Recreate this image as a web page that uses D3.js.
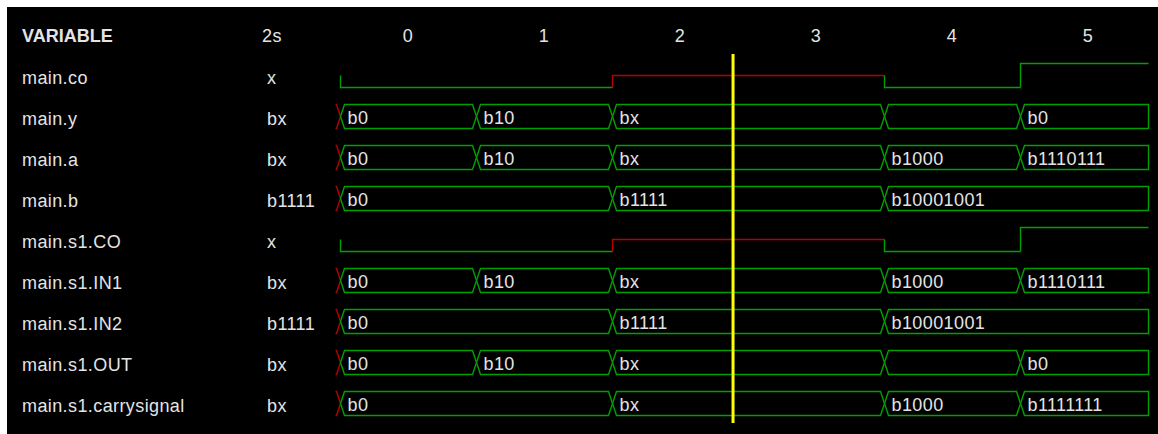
<!DOCTYPE html>
<html>
<head>
<meta charset="utf-8">
<script src="https://cdn.jsdelivr.net/npm/d3@7"></script>
<style>
  html, body { margin: 0; padding: 0; background: #fff; }
  svg { display: block; }
  text { font-family: "Liberation Sans", Arial, sans-serif; font-size: 18px; letter-spacing: 0.4px; fill: #e4e4e4; }
</style>
</head>
<body>
<svg id="root" width="1158" height="434"></svg>
<script>
// Values per time step (0..5)
var timeTicks = [0, 1, 2, 3, 4, 5];
var cursorLabel = '2s';
var cursorTime = 2.89;

var coValues    = ['0', '0', 'x', 'x', '0', '1'];
var yValues     = ['b0', 'b10', 'bx', 'bx', '', 'b0'];
var aValues     = ['b0', 'b10', 'bx', 'bx', 'b1000', 'b1110111'];
var bValues     = ['b0', 'b0', 'b1111', 'b1111', 'b10001001', 'b10001001'];
var carryValues = ['b0', 'b0', 'bx', 'bx', 'b1000', 'b1111111'];

var signalNames  = ['main.co', 'main.y', 'main.a', 'main.b', 'main.s1.CO',
                    'main.s1.IN1', 'main.s1.IN2', 'main.s1.OUT', 'main.s1.carrysignal'];
var cursorValues = ['x', 'bx', 'bx', 'b1111', 'x', 'bx', 'b1111', 'bx', 'bx'];
var signalKinds  = ['bit', 'bus', 'bus', 'bus', 'bit', 'bus', 'bus', 'bus', 'bus'];
var signalData   = [coValues, yValues, aValues, bValues, coValues,
                    aValues, bValues, yValues, carryValues];

var GREEN = '#00a000', RED = '#b80000';
var svg = d3.select('#root');

svg.append('rect').attr('x', 7).attr('y', 7).attr('width', 1151).attr('height', 427)
  .attr('fill', '#000');

var x = d3.scaleLinear().domain([0, 6]).range([340, 1156]);
var xEnd = 1148;
var row = d3.scaleLinear().domain([-1, 0]).range([34, 75]); // header is row -1
var half = 12, slant = 4;

// header
var header = svg.append('g');
header.append('text').attr('x', 22).attr('y', row(-1) + 7.5)
  .style('font-weight', 'bold').style('letter-spacing', '0px').text('VARIABLE');
header.append('text').attr('x', 262).attr('y', row(-1) + 7.5).text(cursorLabel);
header.selectAll('.tick').data(timeTicks).enter().append('text')
  .attr('class', 'tick')
  .attr('x', function(d) { return x(d + 0.5); })
  .attr('y', row(-1) + 7.5)
  .attr('text-anchor', 'middle')
  .text(function(d) { return d; });

// collapse per-step values into runs
function runs(values) {
  var out = [];
  values.forEach(function(v, i) {
    var last = out[out.length - 1];
    if (last && last.v === v) last.t1 = i + 1;
    else out.push({v: v, t0: i, t1: i + 1});
  });
  return out;
}

var rows = svg.selectAll('.signal').data(signalNames).enter().append('g')
  .attr('class', 'signal');

rows.append('text').attr('x', 22).attr('y', function(d, i) { return row(i) + 8.5; })
  .text(function(d) { return d; });
rows.append('text').attr('x', 267).attr('y', function(d, i) { return row(i) + 8.5; })
  .text(function(d, i) { return cursorValues[i]; });

var line = d3.line();

rows.each(function(name, i) {
  var g = d3.select(this);
  var c = Math.round(row(i)) + 0.5;
  var segs = runs(signalData[i]);

  if (signalKinds[i] === 'bit') {
    var level = function(v) { return v === '1' ? c - half : v === '0' ? c + half : c; };
    var prev = level('x');
    segs.forEach(function(s) {
      var x0 = Math.round(x(s.t0)) + 0.5;
      var x1 = Math.min(Math.round(x(s.t1)) + 0.5, xEnd + 0.5);
      var col = s.v === 'x' ? RED : GREEN;
      g.append('path').attr('fill', 'none').attr('stroke', col).attr('stroke-width', 1.4)
        .attr('d', line([[x0, prev], [x0, level(s.v)], [x1, level(s.v)]]));
      prev = level(s.v);
    });
    return;
  }

  var top = c - half, bot = c + half;
  // left half of the first crossing comes from an unknown value
  var first = Math.round(x(0)) + 0.5;
  g.append('path').attr('fill', 'none').attr('stroke', RED).attr('stroke-width', 1.4)
    .attr('d', line([[first - 5, top], [first - slant, top], [first, c],
                     [first - slant, bot], [first - 5, bot]]));

  segs.forEach(function(s, k) {
    var x0 = Math.round(x(s.t0)) + 0.5;
    var last = k === segs.length - 1;
    var x1 = last ? xEnd + 0.5 : Math.round(x(s.t1)) + 0.5;
    var pts = last
      ? [[x0, c], [x0 + slant, top], [x1, top], [x1, bot], [x0 + slant, bot], [x0, c]]
      : [[x0, c], [x0 + slant, top], [x1 - slant, top], [x1, c],
         [x1 - slant, bot], [x0 + slant, bot], [x0, c]];
    g.append('path').attr('fill', 'none').attr('stroke', GREEN).attr('stroke-width', 1.4)
      .attr('d', line(pts));
    g.append('text').attr('x', x0 + 7).attr('y', c + 7.5).text(s.v);
  });
});

// cursor
svg.append('rect').attr('x', x(cursorTime) - 1.5).attr('y', 54)
  .attr('width', 3).attr('height', 369).attr('fill', '#ffff00');
</script>
</body>
</html>
